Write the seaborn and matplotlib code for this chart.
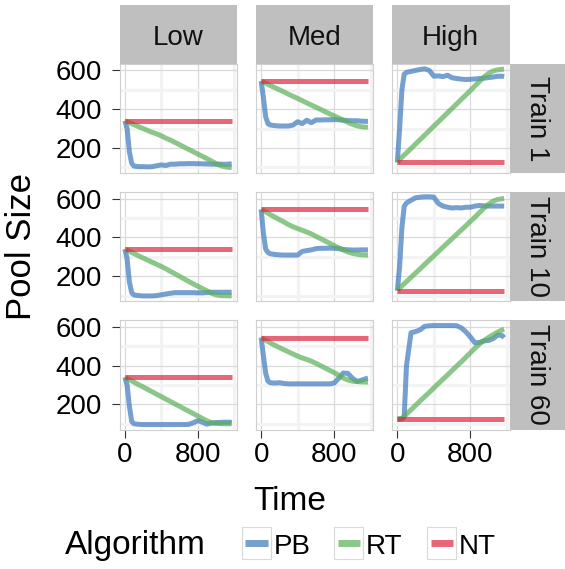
import matplotlib
matplotlib.use("Agg")
import matplotlib.pyplot as plt
from matplotlib.patches import Rectangle
from matplotlib.lines import Line2D
import pandas as pd
import seaborn as sns

# ---- data -----------------------------------------------------------------
TIME = [0, 25, 50, 75, 100, 150, 200, 250, 300, 350, 400, 450, 500, 550,
        600, 650, 700, 750, 800, 850, 900, 950, 1000, 1050, 1100, 1150, 1170]
LEVELS = ["Low", "Med", "High"]
TRAINS = ["Train 1", "Train 10", "Train 60"]
ALGORITHMS = ["PB", "RT", "NT"]
NT_POOL = [340, 545, 125]          # constant pool size per level (Low, Med, High)

# Train 1
PB_LOW_1 = [340, 300, 180, 120, 106, 103, 103, 102, 103, 108, 112, 109, 116, 116,
            118, 118, 119, 119, 118, 118, 117, 116, 116, 116, 115, 117, 117]
RT_LOW_1 = [340, 335, 330, 325, 320, 310, 300, 290, 280, 272, 262, 250, 240, 228,
            216, 204, 192, 180, 168, 156, 144, 132, 118, 108, 102, 99, 98]
PB_MED_1 = [545, 460, 360, 325, 318, 315, 313, 313, 313, 318, 335, 325, 343, 330,
            344, 344, 345, 345, 346, 345, 343, 341, 340, 340, 338, 337, 337]
RT_MED_1 = [545, 540, 534, 528, 522, 511, 500, 489, 477, 466, 455, 444, 432, 421,
            410, 399, 387, 376, 365, 354, 343, 332, 322, 314, 309, 307, 306]
PB_HIGH_1 = [125, 300, 500, 580, 590, 595, 600, 605, 608, 600, 570, 572, 568, 575,
             562, 558, 555, 553, 554, 556, 558, 560, 563, 566, 570, 570, 568]
RT_HIGH_1 = [125, 140, 151, 163, 174, 197, 220, 243, 266, 289, 312, 335, 358, 381,
             404, 427, 450, 473, 496, 520, 544, 566, 585, 597, 603, 606, 606]

# Train 10
PB_LOW_10 = [340, 290, 170, 115, 103, 100, 98, 98, 98, 100, 104, 108, 112, 115,
             115, 115, 115, 115, 114, 114, 116, 117, 117, 117, 117, 117, 117]
RT_LOW_10 = [340, 335, 329, 323, 317, 305, 294, 283, 272, 261, 250, 238, 225, 212,
             199, 186, 173, 160, 148, 136, 124, 112, 104, 100, 99, 98, 98]
PB_MED_10 = [545, 420, 340, 322, 316, 312, 310, 309, 309, 309, 309, 328, 332, 336,
             342, 344, 344, 345, 344, 342, 338, 336, 335, 335, 336, 336, 336]
RT_MED_10 = [545, 538, 532, 525, 518, 505, 492, 480, 466, 455, 446, 437, 428, 418,
             406, 394, 382, 370, 358, 346, 335, 325, 318, 313, 310, 309, 309]
PB_HIGH_10 = [125, 250, 450, 560, 578, 592, 605, 608, 610, 610, 608, 575, 562, 556,
              552, 554, 552, 556, 556, 562, 565, 563, 562, 562, 562, 562, 562]
RT_HIGH_10 = [125, 138, 150, 161, 172, 194, 216, 238, 261, 283, 305, 327, 350, 372,
              394, 416, 438, 460, 483, 505, 528, 552, 572, 588, 596, 600, 601]

# Train 60
PB_LOW_60 = [340, 300, 190, 112, 100, 97, 96, 96, 96, 96, 96, 96, 96, 96,
             96, 96, 97, 105, 116, 108, 98, 104, 106, 107, 108, 108, 106]
RT_LOW_60 = [340, 333, 327, 321, 315, 302, 290, 277, 265, 252, 240, 227, 215, 202,
             190, 177, 165, 152, 140, 127, 115, 105, 102, 100, 100, 100, 100]
PB_MED_60 = [545, 450, 360, 320, 312, 310, 312, 308, 306, 306, 306, 306, 306, 306,
             306, 306, 306, 306, 310, 335, 362, 360, 335, 318, 325, 333, 335]
RT_MED_60 = [545, 538, 531, 525, 518, 505, 493, 482, 471, 460, 449, 440, 432, 423,
             412, 400, 388, 376, 364, 350, 336, 326, 320, 318, 316, 315, 315]
PB_HIGH_60 = [125, 125, 125, 135, 400, 570, 576, 585, 603, 606, 607, 607, 607, 607,
              607, 606, 595, 575, 548, 518, 520, 528, 530, 540, 558, 555, 544]
RT_HIGH_60 = [125, 125, 128, 138, 150, 172, 195, 218, 240, 262, 285, 308, 330, 352,
              375, 398, 420, 443, 466, 490, 512, 530, 546, 560, 573, 585, 588]

PB = {("Train 1", "Low"): PB_LOW_1, ("Train 1", "Med"): PB_MED_1, ("Train 1", "High"): PB_HIGH_1,
      ("Train 10", "Low"): PB_LOW_10, ("Train 10", "Med"): PB_MED_10, ("Train 10", "High"): PB_HIGH_10,
      ("Train 60", "Low"): PB_LOW_60, ("Train 60", "Med"): PB_MED_60, ("Train 60", "High"): PB_HIGH_60}
RT = {("Train 1", "Low"): RT_LOW_1, ("Train 1", "Med"): RT_MED_1, ("Train 1", "High"): RT_HIGH_1,
      ("Train 10", "Low"): RT_LOW_10, ("Train 10", "Med"): RT_MED_10, ("Train 10", "High"): RT_HIGH_10,
      ("Train 60", "Low"): RT_LOW_60, ("Train 60", "Med"): RT_MED_60, ("Train 60", "High"): RT_HIGH_60}

rows = []
for tr in TRAINS:
    for k, lv in enumerate(LEVELS):
        for t, v in zip(TIME, PB[(tr, lv)]):
            rows.append((tr, lv, "PB", t, v))
        for t, v in zip(TIME, RT[(tr, lv)]):
            rows.append((tr, lv, "RT", t, v))
        for t in (TIME[0], TIME[-1]):
            rows.append((tr, lv, "NT", t, NT_POOL[k]))
df = pd.DataFrame(rows, columns=["Train", "Level", "Algorithm", "Time", "Pool Size"])

# ---- style ----------------------------------------------------------------
sns.set_theme(style="white")
plt.rcParams["font.family"] = ["Liberation Sans", "DejaVu Sans"]
plt.rcParams["text.color"] = "black"

PALETTE = {"PB": "#3C78BD", "RT": "#5CB058", "NT": "#DE2641"}
ALPHA = 0.7
LW = 3.6

g = sns.relplot(
    data=df, x="Time", y="Pool Size", hue="Algorithm", hue_order=ALGORITHMS,
    row="Train", col="Level", row_order=TRAINS, col_order=LEVELS,
    kind="line", palette=PALETTE, estimator=None, legend=False,
    linewidth=LW, alpha=ALPHA, solid_capstyle="butt",
    height=1.2, aspect=1.0, facet_kws=dict(sharex=True, sharey=True),
)
g.set_titles("")
g.set_axis_labels("", "")

W, H = 565, 569
fig = g.figure
fig.set_size_inches(W / 100, H / 100)
fig.set_dpi(100)
fig.patch.set_facecolor("white")

col_left = [119.5, 255.8, 392.0]
row_top = [63.5, 191.8, 320.0]
pw, ph = 117.5, 109.5
strip = 58.0

# ggplot-style 5% expansion of the data range
xmin, xmax = df["Time"].min(), df["Time"].max()
ymin, ymax = df["Pool Size"].min(), df["Pool Size"].max()
xpad, ypad = 0.05 * (xmax - xmin), 0.05 * (ymax - ymin)

for i, tr in enumerate(TRAINS):
    for j, lv in enumerate(LEVELS):
        ax = g.axes[i, j]
        ax.set_position([col_left[j] / W, 1 - (row_top[i] + ph) / H, pw / W, ph / H])
        ax.set_xlim(xmin - xpad, xmax + xpad)
        ax.set_ylim(ymin - ypad, ymax + ypad)
        ax.set_xticks([0, 800])
        ax.set_yticks([200, 400, 600])
        ax.set_xticks([400, 1200], minor=True)
        ax.set_yticks([100, 300, 500], minor=True)
        ax.set_axisbelow(True)
        ax.grid(which="major", color="#DADADA", linewidth=0.9)
        ax.grid(which="minor", color="#F3F3F3", linewidth=2.2)
        ax.set_facecolor("white")
        for sp in ax.spines.values():
            sp.set_visible(True)
            sp.set_color("#CFCFCF")
            sp.set_linewidth(0.8)
        ax.tick_params(which="minor", length=0)
        ax.tick_params(axis="both", which="major", labelsize=20, colors="#333333",
                       labelcolor="black", width=0.8, length=6)
        ax.tick_params(axis="y", pad=6.5, left=(j == 0), labelleft=(j == 0))
        ax.tick_params(axis="x", pad=3, bottom=(i == 2), labelbottom=(i == 2))
        ax.set_xlabel("")
        ax.set_ylabel("")

# strips
STRIP_FILL = "#BFBFBF"
for j, lv in enumerate(LEVELS):
    fig.add_artist(Rectangle((col_left[j] / W, 1 - row_top[0] / H), pw / W, strip / H,
                             transform=fig.transFigure, facecolor=STRIP_FILL,
                             edgecolor="none"))
    fig.text((col_left[j] + pw / 2) / W, 1 - 45 / H, lv, fontsize=20,
             ha="center", va="baseline", color="#111111")
for i, tr in enumerate(TRAINS):
    fig.add_artist(Rectangle(((col_left[2] + pw) / W, 1 - (row_top[i] + ph) / H),
                             strip / W, ph / H, transform=fig.transFigure,
                             facecolor=STRIP_FILL, edgecolor="none"))
    fig.text(537 / W, 1 - (row_top[i] + ph / 2) / H, tr, fontsize=20, rotation=270,
             ha="center", va="center", color="#111111")

# axis titles
fig.text(290 / W, 1 - 510 / H, "Time", fontsize=24, ha="center", va="baseline",
         color="black")
fig.text(22 / W, 1 - 246 / H, "Pool Size", fontsize=25, rotation=90,
         ha="center", va="center", color="black")

# legend
fig.text(65 / W, 1 - 554 / H, "Algorithm", fontsize=24, ha="left", va="baseline",
         color="black")
key_left = [241.7, 334.0, 427.0]
for k, alg in enumerate(ALGORITHMS):
    x0 = key_left[k]
    fig.add_artist(Rectangle((x0 / W, 1 - 559 / H), 29 / W, 32 / H,
                             transform=fig.transFigure, facecolor="white",
                             edgecolor="#D9D9D9", linewidth=0.8))
    fig.add_artist(Line2D([(x0 + 3.5) / W, (x0 + 26) / W], [1 - 542.5 / H] * 2,
                          transform=fig.transFigure, color=PALETTE[alg], alpha=ALPHA,
                          linewidth=5, solid_capstyle="butt"))
    fig.text((x0 + 32) / W, 1 - 553.5 / H, alg, fontsize=20, ha="left", va="baseline",
             color="black")

fig.savefig("out.png", dpi=100)
